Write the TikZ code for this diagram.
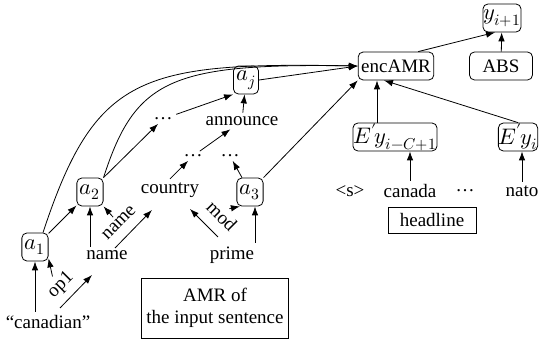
\documentclass[tikz,border=0pt]{standalone}
\usepackage{fontspec}
\usepackage{unicode-math}
\setmainfont{Liberation Serif}
\setmathfont{Latin Modern Math}
\usetikzlibrary{arrows.meta}

\tikzset{
  box/.style={draw, rounded corners=5pt, inner sep=3pt, minimum height=28pt},
  mbox/.style={box, font=\fontsize{22.5}{26}\selectfont},
  frame/.style={draw, inner sep=5pt},
  arr/.style={-{Latex[length=9pt,width=6.5pt]}},
}

\begin{document}
\begin{tikzpicture}[x=1pt, y=1pt, line width=0.8pt,
    every node/.style={font=\fontsize{19}{22}\selectfont}]
      \useasboundingbox (0,0) rectangle (539,345);

      % AMR side
      \node[mbox] (a1) at (35,98) {$a_1$};
      \node[mbox] (a2) at (90,153) {$a_2$};
      \node[mbox] (a3) at (250,153) {$a_3$};
      \node[mbox] (aj) at (246,265) {$a_j$};
      \node (canadian) at (48,23) {``canadian''};
      \node (name) at (107,90) {name};
      \node (prime) at (232,90) {prime};
      \node (country) at (170,155) {country};
      \node (ldots) at (163,226) {\dots};
      \node (d1) at (193,189) {\dots};
      \node (d2) at (230,189) {\dots};
      \node (announce) at (242,224) {announce};
      \node[rotate=45] (op1) at (61,60) {op1};
      \node[rotate=45] (namelbl) at (119,122) {name};
      \node[rotate=-45] (modlbl) at (222,129) {mod};
      \coordinate (op1s) at (60,37);
      \coordinate (op1e) at (92,70);
      \coordinate (nms) at (115,97);
      \coordinate (nme) at (152,135);
      \coordinate (mds) at (218,108);
      \coordinate (mde) at (190,136);
      \node[frame, align=center, minimum width=144pt, minimum height=60pt] (amr) at (215,37) {AMR of\\the input sentence};

      % headline side
      \node[box] (enc) at (396,279) {encAMR};
      \node[mbox, inner sep=0.5pt] (yi) at (502,327) {$y_{i+1}$};
      \node[box, minimum width=63pt] (abs) at (501,279) {ABS};
      \node[mbox, inner sep=0.5pt] (e1) at (395,208) {$E'\mkern-1.5mu y_{i-C+1}$};
      \node[mbox, inner sep=0.5pt] (e2) at (518,208) {$E'\mkern-1.5mu y_i$};
      \node (s) at (350,154) {<s>};
      \node (canada) at (410,154) {canada};
      \node (hdots) at (465,154) {\dots};
      \node (nato) at (522,154) {nato};
      \node[frame, minimum width=88pt, minimum height=26pt] (headline) at (432,125) {headline};

      % AMR edges
      \draw[arr] (a1 |- canadian.north) -- (a1.south);
      \draw[arr] (op1s) -- (op1e);
      \draw[arr] (op1.north) -- (a1.-40);
      \draw[arr] (a1) -- (a2);
      \draw[arr] (a2 |- name.north) -- (a2.south);
      \draw[arr] (nms) -- (nme);
      \draw[arr] (namelbl.north) -- (a2.south east);
      \draw[arr] (mds) -- (mde);
      \draw[arr] (modlbl.north) -- (a3.-125);
      \draw[arr] ([xshift=5pt]a3 |- prime.north) -- ([xshift=5pt]a3.south);
      \draw[arr] (a2.north east) -- (ldots);
      \draw[arr] (ldots) -- (aj.south west);
      \draw[arr] (country.north) -- (d1);
      \draw[arr] (d1) -- (announce);
      \draw[arr] (a3) -- (d2);
      \draw[arr] (announce) -- (aj);

      % into encAMR
      \draw[arr] ([xshift=8pt]a1.north) .. controls (95,270) and (140,283) .. (enc.west);
      \draw[arr] (a2.north east) .. controls (135,265) and (170,282) .. (enc.west);
      \draw[arr] (aj.east) -- (enc.west);
      \draw[arr] (a3.north east) -- (enc.south west);
      \draw[arr] ([xshift=-18pt]e1.north) -- ([xshift=-18pt]e1.north |- enc.south);
      \draw[arr] (e2.north) -- ([xshift=-12pt]enc.south);
      \draw[arr] (canada.north) -- (canada.north |- e1.south);
      \draw[arr] (nato.north) -- (nato.north |- e2.south);
      \draw[arr] ([xshift=-16pt]enc.north east) -- ([xshift=-7pt]yi.south);
      \draw[arr] (abs) -- (yi);
\end{tikzpicture}
\end{document}
